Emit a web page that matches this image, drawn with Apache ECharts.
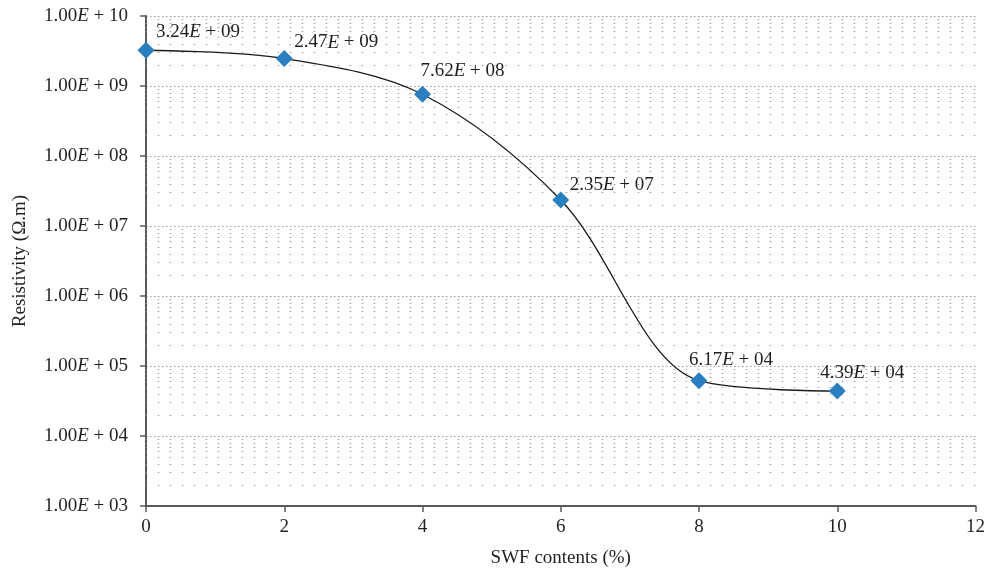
<!DOCTYPE html>
<html>
<head>
<meta charset="utf-8">
<script src="https://cdn.jsdelivr.net/npm/echarts@6/dist/echarts.min.js"></script>
<style>
  html, body { margin: 0; padding: 0; background: #fff; }
  #chart { width: 988px; height: 573px; }
</style>
</head>
<body>
<div id="chart"></div>
<script>
// data
var swfContents = [0, 2, 4, 6, 8, 10];
var resistivity = [3.24e9, 2.47e9, 7.62e8, 2.35e7, 6.17e4, 4.39e4];
var xTicks = [0, 2, 4, 6, 8, 10, 12];
var decades = [3, 4, 5, 6, 7, 8, 9]; // 1e3 .. 1e9, minor lines inside each
// label nudges (px) so they sit like the original
var labelShift = [[52, 5], [52, 7], [40, 0], [51, 8], [32, 2], [25, 5]];

var FONT = '"Liberation Serif", "DejaVu Serif", serif';
var TXT = '#231f20';

// "3.24e+9" -> "3.24{e|E} + 09"
function sci(v, digits) {
  var s = v.toExponential(digits).split('e');
  var ex = parseInt(s[1], 10);
  var sign = ex < 0 ? '\u2212' : '+';
  ex = Math.abs(ex);
  return s[0] + '{e|E} ' + sign + ' ' + (ex < 10 ? '0' + ex : '' + ex);
}

var minorLines = [];
decades.forEach(function (k) {
  for (var m = 2; m <= 9; m++) {
    minorLines.push({ yAxis: m * Math.pow(10, k) });
  }
});

var richE = {
  e: { fontFamily: FONT, fontStyle: 'italic', fontSize: 19, color: TXT }
};

var chart = echarts.init(document.getElementById('chart'));
var option = {
  animation: false,
  grid: { left: 146, right: 11, top: 16, bottom: 67 },
  xAxis: {
    type: 'value',
    min: xTicks[0],
    max: xTicks[xTicks.length - 1],
    interval: 2,
    name: 'SWF contents (%)',
    nameLocation: 'middle',
    nameGap: 43,
    nameTextStyle: { fontFamily: FONT, fontSize: 19, color: TXT },
    axisLine: { lineStyle: { color: '#595959', width: 2 } },
    axisTick: { show: true, length: 6, lineStyle: { color: '#595959', width: 1.5 } },
    axisLabel: { fontFamily: FONT, fontSize: 19, color: TXT, margin: 12 },
    splitLine: { show: false }
  },
  yAxis: {
    type: 'log',
    logBase: 10,
    min: 1e3,
    max: 1e10,
    interval: 1,
    splitNumber: 7,
    name: 'Resistivity (\u03A9.m)',
    nameLocation: 'middle',
    nameGap: 116,
    nameTextStyle: { fontFamily: FONT, fontSize: 19, color: TXT },
    axisLine: { show: true, lineStyle: { color: '#595959', width: 2 } },
    axisTick: { show: true, length: 6, lineStyle: { color: '#595959', width: 1.5 } },
    axisLabel: {
      fontFamily: FONT, fontSize: 19, color: TXT, margin: 18,
      formatter: function (v) { return sci(v, 2); },
      rich: richE
    },
    splitLine: {
      show: true,
      lineStyle: { color: '#9a9a9a', width: 1.2, type: [1.5, 2.5] }
    }
  },
  series: [
    {
      type: 'line',
      data: swfContents.map(function (x, i) { return [x, resistivity[i]]; }),
      smooth: 0.33,
      symbol: 'diamond',
      symbolSize: [17, 17],
      itemStyle: { color: '#2a7fc1' },
      lineStyle: { color: '#1a1a1a', width: 1.3 },
      z: 5,
      label: {
        show: true,
        position: 'top',
        distance: 5,
        fontFamily: FONT,
        fontSize: 19,
        color: TXT,
        rich: richE,
        formatter: function (p) { return sci(p.value[1], 2); }
      },
      labelLayout: function (params) {
        var s = labelShift[params.dataIndex];
        return { dx: s[0], dy: s[1] };
      },
      markLine: {
        silent: true,
        symbol: 'none',
        label: { show: false },
        lineStyle: { color: '#9a9a9a', width: 1.2, type: [1.5, 10.5], dashOffset: 0.3 },
        data: minorLines,
        z: 1
      }
    }
  ]
};
chart.setOption(option);
</script>
</body>
</html>
